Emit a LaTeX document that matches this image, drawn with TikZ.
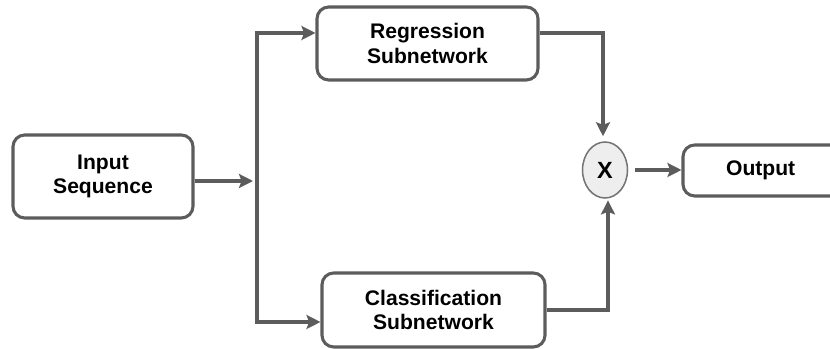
\documentclass[tikz,border=0pt]{standalone}
\usepackage{fontspec}
\setmainfont{Liberation Sans}
\usetikzlibrary{arrows.meta,shapes.geometric}
\definecolor{linegray}{RGB}{92,92,92}
\definecolor{circfill}{RGB}{238,238,238}
\begin{document}
\begin{tikzpicture}[x=0.03cm,y=-0.03cm,
  box/.style={draw=linegray,line width=2.6pt,rounded corners=10pt,fill=white,align=center,
    font=\fontsize{18}{21}\selectfont\bfseries,inner sep=0pt},
  conn/.style={draw=linegray,line width=2.6pt},
  arr/.style={conn,-{Stealth[length=0.42cm,width=0.42cm,inset=0.08cm]}},
  mult/.style={ellipse,draw=linegray!85,line width=1.3pt,fill=circfill,inner sep=0pt,
    minimum width=45*0.03cm,minimum height=56*0.03cm,font=\fontsize{20}{22}\selectfont\bfseries}]
\useasboundingbox (0,0) rectangle (830,349);
\clip (0,0) rectangle (830,349);
\node[box,minimum width=180*0.03cm,minimum height=83*0.03cm] (in) at (103,176.5) {Input\\Sequence};
\node[box,minimum width=221*0.03cm,minimum height=73*0.03cm] (reg) at (427.5,43.5) {Regression\\Subnetwork};
\node[box,minimum width=223*0.03cm,minimum height=74*0.03cm] (cls) at (433.5,310) {Classification\\Subnetwork};
\node[mult] (x) at (605,170) {X};
\node[box,minimum width=162*0.03cm,minimum height=51*0.03cm] (out) at (764,170.5) {\hspace*{-0.2cm}Output};
\coordinate (j) at (257,181);
\coordinate (jt) at (257,33);
\coordinate (jb) at (257,322);
\coordinate (rt) at (603,33);
\coordinate (cb) at (608,310);
\draw[arr] (in.east |- j) -- ([xshift=-0.12cm]j);
\draw[conn] (jt) -- (jb);
\draw[arr] ([xshift=-1.3pt]jt) -- (reg.west |- jt);
\draw[arr] ([xshift=-1.3pt]jb) -- (cls.west |- jb);
\draw[arr] (reg.east |- rt) -- (rt) -- ([yshift=0.15cm]rt |- x.north);
\draw[arr] (cls.east |- cb) -- (cb) -- ([yshift=-0.05cm]cb |- x.south);
\draw[arr] ([xshift=0.2cm]x.east) -- (out.west |- x.east);
\end{tikzpicture}
\end{document}
